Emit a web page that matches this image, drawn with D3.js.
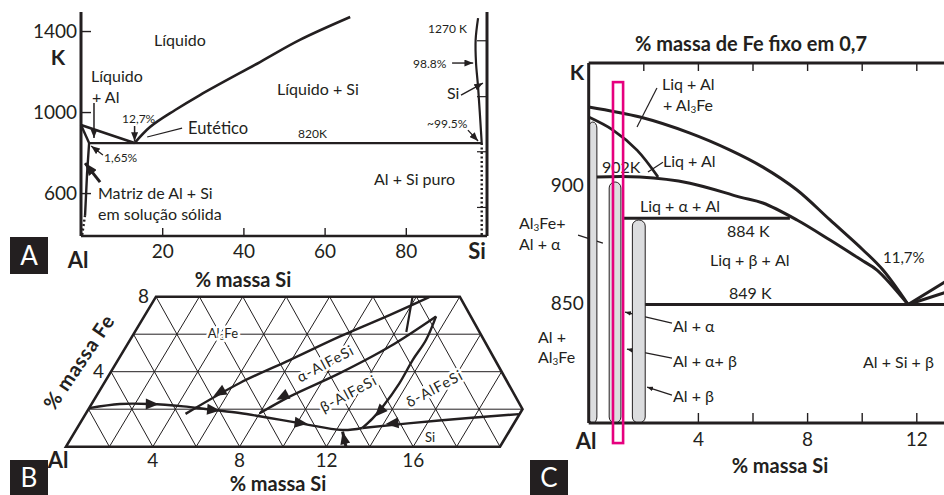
<!DOCTYPE html>
<html>
<head>
<meta charset="utf-8">
<script src="https://cdn.jsdelivr.net/npm/d3@7"></script>
<style>
body { margin: 0; background: #fff; }
svg { display: block; font-family: Lato, "Open Sans", sans-serif; }
</style>
</head>
<body>
<div id="fig"></div>
<script>
// figure size
const W = 944, H = 495;
const INK = "#231f20";
const GRAY = "#dcdddf";
const PINK = "#e6007e";

// ---------- panel A : Al-Si (x = % Si, y = K) ----------
const A_X_TICKS = [20, 40, 60, 80];
const A_Y_TICKS = [600, 1000, 1400];
const A_RIGHT_TICKS = [1352, 1076, 804, 529];
const A_LIQ_AL = [[0, 936], [13.2, 847]];
const A_SOLIDUS_AL = [[0, 936], [2.0, 847]];
const A_SOLVUS = [[2.0, 847], [1.5, 699], [1.0, 491]];
const A_SOLVUS_DOT = [[1.0, 491], [0.25, 388]];
const A_LIQ_SI = [[13.2, 847], [17.0, 926], [23.2, 1010], [29.3, 1084], [44.1, 1247], [53.9, 1356], [66.3, 1469]];
const A_EUTECTIC = [[2.0, 847], [98.7, 847]];
const A_SOLIDUS_SI = [[97.8, 1464], [97.2, 1356], [97.3, 1242], [97.8, 1124], [98.7, 847]];
const A_SI_DOT = [[98.7, 847], [98.7, 388]];

// ---------- panel B : liquidus projection (x = % Si, y = % Fe) ----------
const B_SI_TICKS = [4, 8, 12, 16];
const B_FE_TICKS = [4, 8];
const B_GRID_FE = [2, 4, 6];
const B_GRID_SI = [2, 4, 6, 8, 10, 12, 14, 16, 18];
const B_GRID_SUM = [2, 4, 6, 8, 10, 12, 14, 16, 18, 20];
const B_OUTLINE = [[0, 0], [0, 8], [14, 8], [20, 2], [20, 0]];
const B_MAIN = [[0, 2.06], [1.3, 2.28], [2.68, 2.28], [4.3, 2.15], [5.6, 1.98], [7.07, 1.8], [8.59, 1.53], [10.11, 1.26], [12.28, 0.89], [13.14, 1.0]];
const B_SI_LINE = [[13.14, 1.0], [16.47, 1.4], [19.97, 1.74]];
const B_ALPHA_TOP = [[4.6, 1.75], [6.25, 3.4], [7.91, 4.62], [9.56, 5.87], [11.27, 7.02], [12.6, 7.98]];
const B_ALPHA_BETA = [[8.0, 1.78], [8.92, 2.67], [10.57, 3.91], [12.14, 5.33], [13.45, 6.95]];
const B_SHORT = [[11.83, 7.98], [12.18, 7.02], [12.51, 6.12]];
const B_DELTA = [[13.45, 6.95], [13.64, 5.69], [13.58, 4.62], [13.61, 3.38], [13.49, 2.13], [13.35, 1.51], [13.14, 1.0]];
const B_ARROWS = [
  [[2.5, 2.28], [3.1, 2.27]],
  [[5.5, 1.99], [6.1, 1.93]],
  [[9.9, 1.3], [10.5, 1.22]],
  [[5.9, 3.2], [5.4, 2.7]],
  [[8.8, 2.85], [8.4, 2.5]],
  [[13.5, 1.95], [13.4, 1.6]],
  [[14.6, 1.27], [14.1, 1.21]]
];
const B_BOLD_ARROW = [[12.9, 0.0], [12.33, 0.8]];

// ---------- panel C : section at 0,7 % Fe (x = % Si, y = K) ----------
const C_TOP_TICKS = [2, 4, 6, 8, 10, 12];
const C_BOTTOM_TICKS = [4, 6, 8, 10, 12];
const C_Y_TICKS = [850, 900];
const C_LIQ_TOP = [[0, 933.1], [1.88, 928.8], [3.71, 922.0], [5.18, 914.8], [6.38, 907.6], [7.63, 897.9], [8.84, 885.2], [10.05, 872.5], [10.78, 864.0], [11.7, 849.4]];
const C_LIQ_AL = [[0, 928.8], [0.89, 923.3], [1.77, 914.8], [2.54, 903.4]];
const C_902 = [[0.3, 903.4], [1.88, 903.4], [3.71, 900.8], [5.54, 894.9], [6.38, 892.4], [7.63, 885.2], [8.84, 876.7], [10.05, 867.8], [10.56, 864.0], [11.7, 849.4]];
const C_SI_LIQ_1 = [[11.7, 849.4], [13.2, 860]];
const C_SI_LIQ_2 = [[11.7, 849.4], [13.2, 855]];
const C_884 = [[1.26, 885.9], [7.37, 885.9]];
const C_849 = [[2.07, 849.4], [14, 849.4]];
const C_BARS = [
  {x0: 0, x1: 0.3, top: 926.7},
  {x0: 0.75, x1: 1.18, top: 901.3},
  {x0: 1.6, x1: 2.07, top: 885.2}
];
const C_SEL = {x0: 0.89, x1: 1.26, top: 943.6, bottom: 790.7};
const C_LEADERS = [
  [[2.5, 941.1], [1.77, 924.6]],
  [[2.72, 909.7], [2.17, 905.5]],
  [[-0.39, 878.8], [0.52, 875.4]]
];
const C_ARROWS = [
  [[3.05, 841.5], [1.33, 846.2]],
  [[3.05, 826.7], [1.4, 830.5]],
  [[3.05, 811.0], [2.14, 814.4]]
];

const svg = d3.select("#fig").append("svg")
  .attr("width", W).attr("height", H);

const defs = svg.append("defs");
defs.append("marker").attr("id", "ah")
  .attr("viewBox", "0 0 10 8").attr("refX", 10).attr("refY", 4)
  .attr("markerWidth", 9).attr("markerHeight", 7)
  .attr("markerUnits", "userSpaceOnUse").attr("orient", "auto")
  .append("path").attr("d", "M0,0L10,4L0,8z").attr("fill", INK);
defs.append("marker").attr("id", "ahs")
  .attr("viewBox", "0 0 10 8").attr("refX", 10).attr("refY", 4)
  .attr("markerWidth", 6).attr("markerHeight", 5)
  .attr("markerUnits", "userSpaceOnUse").attr("orient", "auto")
  .append("path").attr("d", "M0,0L10,4L0,8z").attr("fill", INK);
defs.append("marker").attr("id", "ahb")
  .attr("viewBox", "0 0 10 8").attr("refX", 10).attr("refY", 4)
  .attr("markerWidth", 13).attr("markerHeight", 10)
  .attr("markerUnits", "userSpaceOnUse").attr("orient", "auto")
  .append("path").attr("d", "M0,0L10,4L0,8z").attr("fill", INK);

// text helper, parts = [[string, "sub"?], ...]
function label(g, x, y, parts, size, opts = {}) {
  const t = g.append("text")
    .attr("x", x).attr("y", y)
    .attr("font-size", size)
    .attr("fill", opts.fill || INK)
    .attr("font-weight", opts.bold ? 700 : 400)
    .attr("text-anchor", opts.anchor || "start");
  if (opts.rotate) t.attr("transform", `rotate(${opts.rotate},${x},${y})`);
  if (opts.spacing) t.attr("letter-spacing", opts.spacing);
  if (opts.halo) t.attr("stroke", "#fff").attr("stroke-width", 5).attr("paint-order", "stroke").attr("stroke-linejoin", "round");
  if (typeof parts === "string") parts = [[parts]];
  parts.forEach(p => {
    const s = t.append("tspan").text(p[0]);
    if (p[1] === "sub") s.attr("font-size", size * 0.62).attr("baseline-shift", "-22%");
  });
  return t;
}

function hline(g, pts, x, y, w, opts = {}) {
  const gen = d3.line().x(d => x(d[0], d[1])).y(d => y(d[0], d[1]));
  if (opts.curve) gen.curve(d3.curveCatmullRom.alpha(0.5));
  const p = g.append("path").attr("d", gen(pts))
    .attr("fill", "none").attr("stroke", INK).attr("stroke-width", w)
    .attr("stroke-linecap", opts.cap || "butt").attr("stroke-linejoin", "round");
  if (opts.dash) p.attr("stroke-dasharray", opts.dash);
  if (opts.marker) p.attr("marker-end", `url(#${opts.marker})`);
  return p;
}

function boxLetter(x, y, w, h, ch) {
  svg.append("rect").attr("x", x).attr("y", y).attr("width", w).attr("height", h).attr("fill", INK);
  label(svg, x + w / 2, y + h / 2 + 9, ch, 26, {anchor: "middle", fill: "#fff"});
}

// =================== PANEL A ===================
const gA = svg.append("g");
const xA = d3.scaleLinear([0, 100], [81, 487]);
const yA = d3.scaleLinear([388, 1494], [236, 12]);
const ax = (a) => xA(a), ay = (a, b) => yA(b);

gA.append("g").attr("transform", `translate(${xA(0)},0)`)
  .call(d3.axisLeft(yA).tickValues(A_Y_TICKS).tickSize(-10).tickPadding(4).tickFormat(d3.format("d")))
  .call(g => g.select(".domain").remove())
  .call(g => g.selectAll("line").attr("stroke", INK).attr("stroke-width", 1.4))
  .call(g => g.selectAll("text").attr("font-size", 19).attr("fill", INK).attr("font-family", "Lato"));

gA.append("g").attr("transform", `translate(0,${yA(388)})`)
  .call(d3.axisBottom(xA).tickValues(A_X_TICKS).tickSize(-8).tickPadding(9))
  .call(g => g.select(".domain").remove())
  .call(g => g.selectAll("line").attr("stroke", INK).attr("stroke-width", 1.4))
  .call(g => g.selectAll("text").attr("font-size", 19).attr("fill", INK).attr("font-family", "Lato"));

gA.selectAll(".rtick").data(A_RIGHT_TICKS).join("line")
  .attr("x1", xA(100) - 10).attr("x2", xA(100))
  .attr("y1", d => yA(d)).attr("y2", d => yA(d))
  .attr("stroke", INK).attr("stroke-width", 1.2);

// frame: left, bottom, right
hline(gA, [[0, 388], [0, 1494]], ax, ay, 3);
hline(gA, [[0, 388], [100, 388]], ax, ay, 2.6);
hline(gA, [[100, 388], [100, 1494]], ax, ay, 3);

hline(gA, A_LIQ_AL, ax, ay, 2.6);
hline(gA, A_SOLIDUS_AL, ax, ay, 2.4);
hline(gA, A_SOLVUS, ax, ay, 2.4);
hline(gA, A_SOLVUS_DOT, ax, ay, 2.4, {dash: "2,2.5"});
hline(gA, A_LIQ_SI, ax, ay, 2.6, {curve: true});
hline(gA, A_EUTECTIC, ax, ay, 2.2);
hline(gA, A_SOLIDUS_SI, ax, ay, 2.2, {curve: true});
hline(gA, A_SI_DOT, ax, ay, 2.4, {dash: "2,2.5"});

// annotation arrows (data units)
hline(gA, [[3.2, 1045], [3.2, 872]], ax, ay, 1.5, {marker: "ah"});
hline(gA, [[13.2, 931], [13.2, 857]], ax, ay, 1.5, {marker: "ah"});
hline(gA, [[24.9, 921], [16.3, 877]], ax, ay, 1.2);
hline(gA, [[5.4, 788], [2.5, 832]], ax, ay, 1.3, {marker: "ah"});
hline(gA, [[4.7, 654], [1.0, 748]], ax, ay, 3, {marker: "ahb"});
hline(gA, [[91.4, 1242], [96.6, 1242]], ax, ay, 1.4, {marker: "ah"});
hline(gA, [[93.6, 1084], [99.0, 1143]], ax, ay, 1.4, {marker: "ah"});
hline(gA, [[95.3, 911], [97.8, 857]], ax, ay, 1.3, {marker: "ah"});

label(gA, 58, 65, "K", 21, {bold: true, anchor: "middle"});
label(gA, 154, 46, "Líquido", 16);
label(gA, 91, 82, "Líquido", 16);
label(gA, 92, 103, "+ Al", 16);
label(gA, 122, 123, "12,7%", 12);
label(gA, 188, 134, "Eutético", 16.5);
label(gA, 298, 138, "820K", 12);
label(gA, 104, 162, "1,65%", 12);
label(gA, 98, 199, "Matriz de Al + Si", 16);
label(gA, 98, 220, "em solução sólida", 16);
label(gA, 277, 95, "Líquido + Si", 16);
label(gA, 428, 33, "1270 K", 12);
label(gA, 413, 68, "98.8%", 12);
label(gA, 447, 99, "Si", 16);
label(gA, 427, 128, "~99.5%", 12);
label(gA, 374, 185, "Al + Si puro", 16);
label(gA, 78, 268, "Al", 22, {bold: true, anchor: "middle"});
label(gA, 477, 259, "Si", 22, {bold: true, anchor: "middle"});
label(gA, 243, 287, "% massa Si", 20, {bold: true, anchor: "middle"});

// =================== PANEL B ===================
const gB = svg.append("g");
const bSi = d3.scaleLinear([0, 20], [66, 500]);
const bFe = d3.scaleLinear([0, 8], [446.7, 296.7]);
const SHEAR = 0.6;
const bx = (si, fe) => bSi(si) + (bFe(0) - bFe(fe)) * SHEAR;
const by = (si, fe) => bFe(fe);

// triangular grid
B_GRID_FE.forEach(f => hline(gB, [[0, f], [f >= 2 ? 22 - f : 20, f]], bx, by, 1));
B_GRID_SI.forEach(s => hline(gB, [[s, 0], [s, Math.min(8, 22 - s)]], bx, by, 1));
B_GRID_SUM.forEach(s => hline(gB, [[s, 0], [Math.max(0, s - 8), Math.min(8, s)]], bx, by, 1));
gB.append("path")
  .attr("d", d3.line().x(d => bx(d[0], d[1])).y(d => by(d[0], d[1]))(B_OUTLINE) + "Z")
  .attr("fill", "none").attr("stroke", INK).attr("stroke-width", 2.6).attr("stroke-linejoin", "miter");

label(gB, bx(3.4, 6.05), by(0, 6) + 4, [["Al"], ["3", "sub"], ["Fe"]], 13, {halo: true});
label(gB, 328, 368, "α-AlFeSi", 14.5, {anchor: "middle", rotate: -28, spacing: 1.2, halo: true});
label(gB, 351, 398, "β-AlFeSi", 14.5, {anchor: "middle", rotate: -28, spacing: 1.2, halo: true});
label(gB, 437, 393, "δ-AlFeSi", 14.5, {anchor: "middle", rotate: -28, spacing: 1.2, halo: true});
label(gB, 430, 442, "Si", 13, {anchor: "middle", halo: true});

hline(gB, B_MAIN, bx, by, 2.4, {curve: true});
hline(gB, B_SI_LINE, bx, by, 2.4, {curve: true});
hline(gB, B_ALPHA_TOP, bx, by, 2.4, {curve: true});
hline(gB, B_ALPHA_BETA, bx, by, 2.4, {curve: true});
hline(gB, B_SHORT, bx, by, 2.2, {curve: true});
hline(gB, B_DELTA, bx, by, 2.4, {curve: true});

// arrow heads along the lines
B_ARROWS.forEach(([a, b]) => {
  const x1 = bx(a[0], a[1]), y1 = by(a[0], a[1]);
  const x2 = bx(b[0], b[1]), y2 = by(b[0], b[1]);
  const ang = Math.atan2(y2 - y1, x2 - x1) * 180 / Math.PI;
  gB.append("path").attr("d", "M0,0L-13,-5.5L-13,5.5Z").attr("fill", INK)
    .attr("transform", `translate(${x2},${y2}) rotate(${ang})`);
});
hline(gB, B_BOLD_ARROW, bx, by, 3, {marker: "ahb"});

gB.selectAll(".sitick").data(B_SI_TICKS).join("text")
  .attr("x", d => bx(d, 0)).attr("y", 467)
  .attr("text-anchor", "middle").attr("font-size", 19).attr("fill", INK).text(d => d);
gB.selectAll(".fetick").data(B_FE_TICKS).join("text")
  .attr("x", d => bx(0, d) - 7).attr("y", d => by(0, d) + 6)
  .attr("text-anchor", "end").attr("font-size", 19).attr("fill", INK).text(d => d);
label(gB, 58, 468, "Al", 22, {bold: true, anchor: "middle"});
label(gB, 278, 491, "% massa Si", 20, {bold: true, anchor: "middle"});
label(gB, 85, 366, "% massa Fe", 20, {bold: true, anchor: "middle", rotate: -56, spacing: 0.8});

// =================== PANEL C ===================
const gC = svg.append("g");
const xC = d3.scaleLinear([0, 14], [588.7, 588.7 + 14 * 27.3]);
const yC = d3.scaleLinear([799.2, 951.7], [423, 63]);
const cx = (a) => xC(a), cy = (a, b) => yC(b);

gC.append("g").attr("transform", `translate(0,${yC(951.7)})`)
  .call(d3.axisTop(xC).tickValues(C_TOP_TICKS).tickSize(-8).tickFormat(""))
  .call(g => g.select(".domain").remove())
  .call(g => g.selectAll("line").attr("stroke", INK).attr("stroke-width", 1.4));
gC.append("g").attr("transform", `translate(0,${yC(799.2)})`)
  .call(d3.axisBottom(xC).tickValues(C_BOTTOM_TICKS).tickSize(-10).tickPadding(10)
    .tickFormat(d => d % 4 === 0 ? d : ""))
  .call(g => g.select(".domain").remove())
  .call(g => g.selectAll("line").attr("stroke", INK).attr("stroke-width", 1.4))
  .call(g => g.selectAll("text").attr("font-size", 19).attr("fill", INK).attr("font-family", "Lato"));
gC.append("g").attr("transform", `translate(${xC(0)},0)`)
  .call(d3.axisLeft(yC).tickValues(C_Y_TICKS).tickSize(0).tickPadding(5))
  .call(g => g.select(".domain").remove())
  .call(g => g.selectAll("text").attr("font-size", 19).attr("fill", INK).attr("font-family", "Lato"));

// leaders that pass behind the bars
C_ARROWS.forEach(a => hline(gC, a, cx, cy, 1.2, {marker: "ahs"}));
C_LEADERS.forEach(a => hline(gC, a, cx, cy, 1.2));

// single-phase regions as rounded grey bars
gC.selectAll(".bar").data(C_BARS).join("rect")
  .attr("x", d => xC(d.x0)).attr("width", d => xC(d.x1) - xC(d.x0))
  .attr("y", d => yC(d.top)).attr("height", d => yC(799.2) - yC(d.top))
  .attr("rx", d => (xC(d.x1) - xC(d.x0)) / 2).attr("ry", 6)
  .attr("fill", GRAY).attr("stroke", INK).attr("stroke-width", 1);

// frame
hline(gC, [[0, 799.2], [0, 951.7]], cx, cy, 3);
hline(gC, [[0, 951.7], [14, 951.7]], cx, cy, 3);
hline(gC, [[0, 799.2], [14, 799.2]], cx, cy, 3);

hline(gC, C_LIQ_TOP, cx, cy, 3, {curve: true});
hline(gC, C_LIQ_AL, cx, cy, 2.8, {curve: true});
hline(gC, C_902, cx, cy, 3, {curve: true});
hline(gC, C_SI_LIQ_1, cx, cy, 3);
hline(gC, C_SI_LIQ_2, cx, cy, 3);
hline(gC, C_884, cx, cy, 3);
hline(gC, C_849, cx, cy, 3);

label(gC, 751, 51, "% massa de Fe fixo em 0,7", 20, {bold: true, anchor: "middle"});
label(gC, 577, 80, "K", 21, {bold: true, anchor: "middle"});
label(gC, 662, 90, "Liq + Al", 16);
label(gC, 663, 111, [["+ Al"], ["3", "sub"], ["Fe"]], 16);
label(gC, 602, 173, "902K", 16);
label(gC, 663, 167, "Liq + Al", 16);
label(gC, 640, 212, "Liq +  α + Al", 16);
label(gC, 727, 237, "884 K", 16);
label(gC, 710, 266, "Liq +  β + Al", 16);
label(gC, 729, 299, "849 K", 16);
label(gC, 883, 263, "11,7%", 15);
label(gC, 519, 229, [["Al"], ["3", "sub"], ["Fe+"]], 16);
label(gC, 519, 250, "Al +  α", 16);
label(gC, 538, 343, "Al +", 16);
label(gC, 538, 363, [["Al"], ["3", "sub"], ["Fe"]], 16);
label(gC, 673, 332, "Al +  α", 16);
label(gC, 673, 367, "Al +  α+  β", 16);
label(gC, 673, 402, "Al +  β", 16);
label(gC, 863, 368, "Al + Si +   β", 16);
label(gC, 586, 449, "Al", 22, {bold: true, anchor: "middle"});
label(gC, 780, 473, "% massa Si", 20, {bold: true, anchor: "middle"});

// selected composition
gC.append("rect")
  .attr("x", xC(C_SEL.x0)).attr("width", xC(C_SEL.x1) - xC(C_SEL.x0))
  .attr("y", yC(C_SEL.top)).attr("height", yC(C_SEL.bottom) - yC(C_SEL.top))
  .attr("fill", "none").attr("stroke", PINK).attr("stroke-width", 2.6);

// panel letters
boxLetter(10, 237, 38, 37, "A");
boxLetter(10, 460, 38, 35, "B");
boxLetter(530, 460, 38, 35, "C");
</script>
</body>
</html>
